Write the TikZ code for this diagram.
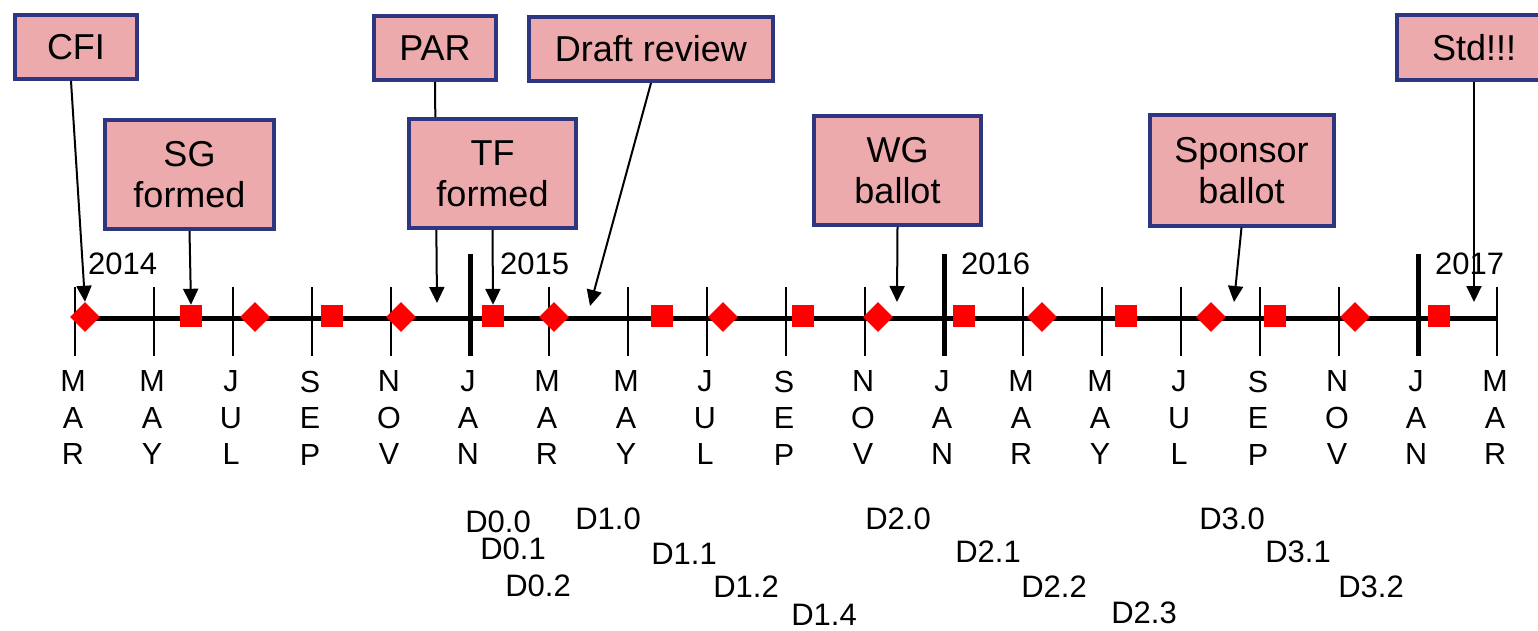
\documentclass[tikz,border=0pt]{standalone}
\usepackage{fontspec}
\setmainfont{Liberation Sans}
\usetikzlibrary{arrows.meta,backgrounds,shapes.geometric}
\definecolor{boxfill}{RGB}{236,170,173}
\definecolor{boxline}{RGB}{47,54,128}
\definecolor{mk}{RGB}{255,0,0}
\begin{document}
\begin{tikzpicture}[x=1pt,y=-1pt,
  ev/.style={draw=boxline,line width=4pt,fill=boxfill,inner sep=0pt,align=center,
    font=\fontsize{36}{41}\selectfont},
  arr/.style={line width=2pt,-{Triangle[length=16pt,width=15pt]}},
  dia/.style={diamond,fill=mk,inner sep=0pt,minimum width=30pt,minimum height=30pt},
  sq/.style={rectangle,fill=mk,inner sep=0pt,minimum size=22pt},
  mon/.style={inner sep=0pt,align=center,font=\fontsize{30.5}{36.5}\selectfont},
  yr/.style={inner sep=0pt,anchor=base west,font=\fontsize{31}{36}\selectfont},
  dr/.style={inner sep=0pt,font=\fontsize{31}{34}\selectfont},
  tk/.style={line width=2.5pt},
  tkj/.style={line width=5pt}]
\useasboundingbox (0,0) rectangle (1538,631);

% ticks
\foreach \i in {0,...,18}{
  \pgfmathsetmacro{\xx}{75+79*\i}
  \draw[tk] (\xx,287) -- (\xx,356);
}
\foreach \i in {5,11,17}{
  \pgfmathsetmacro{\xx}{75+79*\i}
  \draw[tkj] (\xx,254) -- (\xx,356);
}
% main line
\draw[line width=5pt] (75,318) coordinate (ls) -- (1497,318) coordinate (le);

% month labels
\foreach \t [count=\i from 0] in {M\\A\\R,M\\A\\Y,J\\U\\L,S\\E\\P,N\\O\\V,J\\A\\N,
  M\\A\\R,M\\A\\Y,J\\U\\L,S\\E\\P,N\\O\\V,J\\A\\N,
  M\\A\\R,M\\A\\Y,J\\U\\L,S\\E\\P,N\\O\\V,J\\A\\N,M\\A\\R}{
  \pgfmathsetmacro{\xx}{73+79*\i}
  \node[mon] (m\i) at (\xx,418) {\t};
}

% years
\node[yr] (y14) at (88,274) {2014};
\node[yr] (y15) at (500,274) {2015};
\node[yr] (y16) at (961,274) {2016};
\node[yr] (y17) at (1435,274) {2017};

% markers
\foreach \x [count=\i] in {85,255,401,554,723,878,1042,1211,1355}
  \node[dia] (d\i) at (\x,317) {};
\foreach \x [count=\i] in {191,332,493,662,803,964,1126,1275,1439}
  \node[sq] (s\i) at (\x,316) {};

% event boxes
\node[ev,minimum width=122pt,minimum height=64pt] (cfi) at (76,47) {CFI};
\node[ev,minimum width=169pt,minimum height=109pt] (sg) at (189.5,174.5) {SG\\formed};
\node[ev,minimum width=122pt,minimum height=64pt] (par) at (435,48) {PAR};
\node[ev,minimum width=167pt,minimum height=109pt] (tf) at (492.5,173.5) {TF\\formed};
\node[ev,minimum width=244pt,minimum height=64pt] (draft) at (651,49) {Draft review};
\node[ev,minimum width=167pt,minimum height=109pt] (wg) at (897.5,170.5) {WG\\ballot};
\node[ev,minimum width=184pt,minimum height=110pt] (sp) at (1241.5,170.5) {Sponsor\\ballot};
\node[ev,minimum width=154pt,minimum height=65pt] (std) at (1474,47.5) {Std!!!};

% free arrow ends
\coordinate (parT) at (437,303);
\coordinate (drT) at (590,306);
\coordinate (wgT) at (897,302);
\coordinate (spT) at (1234,302);
\coordinate (stdT) at (1474,302);

% arrows
\draw[arr] ([xshift=-5pt]cfi.south) -- (d1.north);
\draw[arr] (sg.south) -- (s1.north);
\begin{pgfonlayer}{background}
\draw[arr] (par.south) -- (parT);
\end{pgfonlayer}
\draw[arr] (tf.south) -- (s3.north);
\draw[arr] (draft.south) -- (drT);
\draw[arr] (wg.south) -- (wgT);
\draw[arr] (sp.south) -- (spT);
\draw[arr] (std.south) -- (stdT);

% draft labels
\node[dr] (d00) at (498,522) {D0.0};
\node[dr] (d01) at (513,549) {D0.1};
\node[dr] (d02) at (538,586) {D0.2};
\node[dr] (d10) at (608,519) {D1.0};
\node[dr] (d11) at (684,554) {D1.1};
\node[dr] (d12) at (746,587) {D1.2};
\node[dr] (d14) at (824,615) {D1.4};
\node[dr] (d20) at (898,519) {D2.0};
\node[dr] (d21) at (988,552) {D2.1};
\node[dr] (d22) at (1054,587) {D2.2};
\node[dr] (d23) at (1144,613) {D2.3};
\node[dr] (d30) at (1232,519) {D3.0};
\node[dr] (d31) at (1298,552) {D3.1};
\node[dr] (d32) at (1371,587) {D3.2};
\end{tikzpicture}
\end{document}
